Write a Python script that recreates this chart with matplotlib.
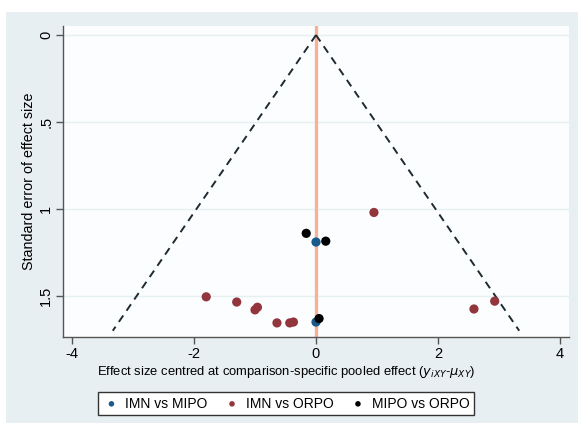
import matplotlib
matplotlib.use("Agg")
import matplotlib.pyplot as plt
from matplotlib.patches import Rectangle
import numpy as np

plt.rcParams['font.family'] = ['Liberation Sans', 'DejaVu Sans']

# Data (effect centred, standard error)
imn_mipo_x = [0.0, 0.0]
imn_mipo_se = [1.19, 1.65]
imn_orpo_x = [0.95, -1.80, -1.30, -1.00, -0.96, -0.64, -0.43, -0.37, 2.59, 2.93]
imn_orpo_se = [1.02, 1.505, 1.535, 1.58, 1.565, 1.655, 1.655, 1.65, 1.575, 1.53]
mipo_orpo_x = [-0.16, 0.16, 0.05]
mipo_orpo_se = [1.14, 1.185, 1.63]
max_se = 1.70
xticks = [-4, -2, 0, 2, 4]
yticks = [0, 0.5, 1, 1.5]
ytick_labels = ["0", ".5", "1", "1.5"]

W, H = 578, 423
fig = plt.figure(figsize=(W/100, H/100), dpi=100)
fig.patch.set_facecolor('white')
fig.patches.append(Rectangle((6/W, 0), 1 - 6/W, 1 - 12/H, transform=fig.transFigure,
                             facecolor='#e8eff2', edgecolor='none', zorder=-10))

ax = fig.add_axes([63/W, 1 - 337/H, (569-63)/W, (337-26)/H])
ax.set_facecolor('#fbfdfe')
ax.set_xlim(-4.148, 4.148)
ax.set_ylim(1.736, -0.052)

for t in yticks:
    ax.axhline(t, color='#e6f0f2', lw=1.0, zorder=0)

ax.axvline(0, color='#f7b198', lw=2.4, zorder=1)
se = np.array([0, max_se])
ax.plot(-1.96*se, se, ls=(0, (4, 3)), color='#1e2a30', lw=1.4, zorder=2)
ax.plot(1.96*se, se, ls=(0, (4, 3)), color='#1e2a30', lw=1.4, zorder=2)

ms = 44
ax.scatter(imn_mipo_x, imn_mipo_se, s=ms, color='#1a5a8a', zorder=3, label='IMN vs MIPO', edgecolors='none')
ax.scatter(imn_orpo_x, imn_orpo_se, s=ms, color='#93353d', zorder=3, label='IMN vs ORPO', edgecolors='none')
ax.scatter(mipo_orpo_x, mipo_orpo_se, s=ms, color='black', zorder=4, label='MIPO vs ORPO', edgecolors='none')

ax.set_xticks(xticks)
ax.set_xticklabels([str(v) for v in xticks])
ax.set_yticks(yticks)
ax.set_yticklabels(ytick_labels, rotation=90, va='center')
ax.tick_params(axis='both', direction='out', length=5, width=1, color='#555555', labelsize=10.5, pad=2)
for s in ['top', 'right']:
    ax.spines[s].set_visible(False)
for s in ['left', 'bottom']:
    ax.spines[s].set_color('#555555')
    ax.spines[s].set_linewidth(1)

ax.set_ylabel('Standard error of effect size', fontsize=10.3, labelpad=2)
fig.text(286/W, 1 - 372/H, r'Effect size centred at comparison-specific pooled effect ($y_{iXY}$-$\mu_{XY}$)',
         ha='center', va='center', fontsize=9.4)

leg = fig.legend(loc='center', bbox_to_anchor=(286/W, 1 - 403.5/H), ncol=3, frameon=True,
                 fontsize=10, fancybox=False, edgecolor='#333333', framealpha=1,
                 handletextpad=0.35, columnspacing=1.1, borderpad=0.3, handlelength=1.3,
                 markerscale=0.6)
leg.get_frame().set_linewidth(1)

fig.savefig('out.png', dpi=100, facecolor=fig.get_facecolor())
